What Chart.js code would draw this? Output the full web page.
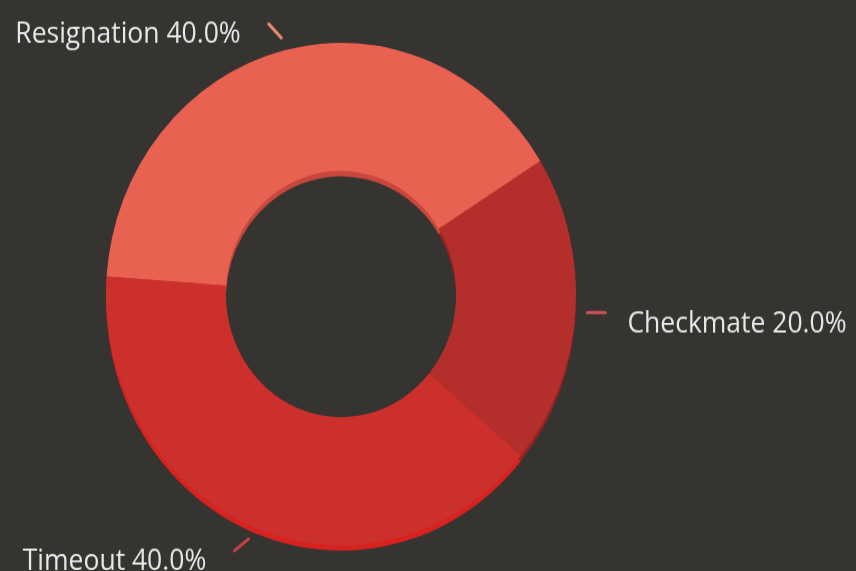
<!DOCTYPE html>
<html>
<head>
<meta charset="utf-8">
<script src="https://cdn.jsdelivr.net/npm/chart.js@4"></script>
<style>
  html { margin: 0; padding: 0; background: #363430; }
  body { margin: 0; padding: 0; background: #363430; width: 856px; height: 571px; }
  #wrap { width: 856px; height: 534px; transform: scaleY(1.0693); transform-origin: 0 0; }
  canvas { display: block; }
</style>
</head>
<body>
<div id="wrap"><canvas id="c" width="856" height="534"></canvas></div>
<script>
const categories = ["Resignation", "Checkmate", "Timeout"];
const values = [40.0, 20.0, 40.0];
const sliceColors = ["#E96251", "#B42F2B", "#CB302C"];
const rimColors = ["#C8473C", "#952321", "#D8221F"];
const dashColors = ["#E08A6E", "#CF5158", "#C2434B"];

const rimPlugin = {
  id: 'rim',
  beforeDatasetsDraw(chart) {
    const ctx = chart.ctx;
    const meta = chart.getDatasetMeta(0);
    meta.data.forEach((arc, i) => {
      const p = arc.getProps(['x','y','startAngle','endAngle','innerRadius','outerRadius'], true);
      ctx.save();
      ctx.fillStyle = rimColors[i];
      ctx.beginPath();
      ctx.arc(p.x, p.y + 5, p.outerRadius, p.startAngle, p.endAngle);
      ctx.arc(p.x, p.y + 5, p.innerRadius, p.endAngle, p.startAngle, true);
      ctx.closePath();
      ctx.fill();
      ctx.restore();
    });
  }
};

const labelPlugin = {
  id: 'outLabels',
  afterDatasetsDraw(chart) {
    const ctx = chart.ctx;
    const meta = chart.getDatasetMeta(0);
    const total = values.reduce((a, b) => a + b, 0);
    meta.data.forEach((arc, i) => {
      const p = arc.getProps(['x','y','startAngle','endAngle','outerRadius'], true);
      const mid = (p.startAngle + p.endAngle) / 2;
      const c = Math.cos(mid), s = Math.sin(mid);
      const r1 = p.outerRadius + 12;
      const x1 = p.x + c * r1, y1 = p.y + s * r1;
      // connector direction: radial, turned up to 30deg toward the horizontal
      const side = c >= 0 ? 0 : Math.PI;
      let diff = mid - side;
      while (diff > Math.PI) diff -= 2 * Math.PI;
      while (diff < -Math.PI) diff += 2 * Math.PI;
      const turn = Math.min(Math.abs(diff), Math.PI / 6) * Math.sign(diff);
      const dir = mid - turn;
      const len = 18;
      const x2 = x1 + Math.cos(dir) * len, y2 = y1 + Math.sin(dir) * len;
      ctx.save();
      ctx.strokeStyle = dashColors[i];
      ctx.lineWidth = 3;
      ctx.lineCap = 'round';
      ctx.beginPath();
      ctx.moveTo(x1, y1);
      ctx.lineTo(x2, y2);
      ctx.stroke();
      const txt = categories[i] + ' ' + (values[i] / total * 100).toFixed(1) + '%';
      ctx.font = '26.5px "Open Sans"';
      ctx.fillStyle = '#E6E8EA';
      ctx.textBaseline = 'middle';
      if (c >= 0) {
        ctx.textAlign = 'left';
        ctx.fillText(txt, x2 + 22, y2 + 11);
      } else {
        ctx.textAlign = 'right';
        ctx.fillText(txt, x2 - 28, y2 + 10);
      }
      ctx.restore();
    });
  }
};

new Chart(document.getElementById('c'), {
  type: 'doughnut',
  data: {
    labels: categories,
    datasets: [{
      data: values,
      backgroundColor: sliceColors,
      borderWidth: 0
    }]
  },
  options: {
    responsive: false,
    animation: false,
    rotation: -86,
    cutout: '49%',
    layout: { padding: { left: 106, right: 280, top: 40, bottom: 24 } },
    plugins: {
      legend: { display: false },
      tooltip: { enabled: false }
    }
  },
  plugins: [rimPlugin, labelPlugin]
});
</script>
</body>
</html>
